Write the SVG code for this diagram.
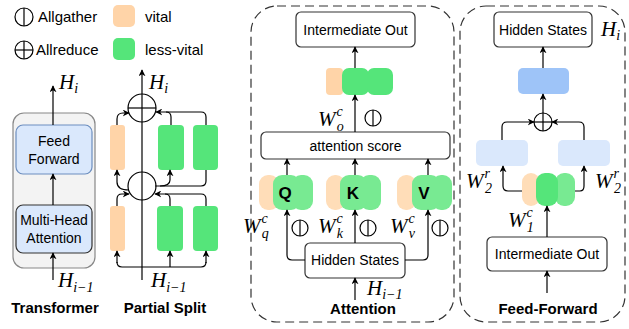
<svg xmlns="http://www.w3.org/2000/svg" width="629" height="329" viewBox="0 0 629 329">
<defs>
<marker id="ah" viewBox="0 0 10 10" refX="9" refY="5" markerWidth="7" markerHeight="7" markerUnits="userSpaceOnUse" orient="auto">
<path d="M0,0 L10,5 L0,10 L3,5 Z" fill="#000"/>
</marker>
<style>
.t{font-family:"Liberation Sans",Arial,sans-serif;font-size:14px;fill:#000}
.lg{font-family:"Liberation Sans",Arial,sans-serif;font-size:15px;fill:#000}
.b{font-family:"Liberation Sans",Arial,sans-serif;font-size:15px;font-weight:bold;fill:#000;text-anchor:middle}
.m{font-family:"Liberation Serif","Times New Roman",serif;font-style:italic;font-size:21px;fill:#000}
.ms{font-family:"Liberation Serif","Times New Roman",serif;font-style:italic;font-size:14px;fill:#000}
.qkv{font-family:"Liberation Sans",Arial,sans-serif;font-size:17px;font-weight:bold;fill:#000;text-anchor:middle}
.ln{fill:none;stroke:#000;stroke-width:1.2}
.ar{fill:none;stroke:#000;stroke-width:1.2;marker-end:url(#ah)}
.box{fill:#fff;stroke:#333;stroke-width:1.2}
.vit{fill:#FFD4A8}
.lv{fill:#55E57A}
.vit2{fill:#FFDDB8}
.lv2{fill:#78EA92}
.sym{fill:#fff;stroke:#000;stroke-width:1.2}
.panel{fill:none;stroke:#333;stroke-width:1.2;stroke-dasharray:9 5}
</style>
</defs>

<!-- Legend -->
<g id="legend">
<circle class="sym" cx="24" cy="17" r="9"/><line class="ln" x1="24" y1="8" x2="24" y2="26"/>
<text class="lg" x="38" y="22">Allgather</text>
<rect class="vit" x="113" y="5" width="22" height="22" rx="5"/>
<text class="lg" x="145" y="22">vital</text>
<circle class="sym" cx="24" cy="50" r="9"/><line class="ln" x1="24" y1="41" x2="24" y2="59"/><line class="ln" x1="15" y1="50" x2="33" y2="50"/>
<text class="lg" x="36" y="55">Allreduce</text>
<rect class="lv" x="113" y="38" width="22" height="22" rx="5"/>
<text class="lg" x="145" y="55">less-vital</text>
</g>

<!-- Transformer -->
<g id="transformer">
<rect x="13" y="113" width="82" height="155" rx="11" fill="#f3f3f3" stroke="#888" stroke-width="1.2"/>
<g id="feed-forward">
<rect x="16" y="125" width="76" height="49" rx="7" fill="#dae8fc" stroke="#6c8ebf" stroke-width="1.2"/>
<text class="t" x="54" y="146" text-anchor="middle">Feed</text>
<text class="t" x="54" y="164" text-anchor="middle">Forward</text>
</g>
<g id="mha">
<rect x="16" y="205" width="76" height="48" rx="7" fill="#dae8fc" stroke="#333" stroke-width="1.2"/>
<text class="t" x="54" y="225" text-anchor="middle">Multi-Head</text>
<text class="t" x="54" y="243" text-anchor="middle">Attention</text>
</g>
<text class="m" x="59" y="89">H<tspan class="ms" dy="4">i</tspan></text>
<text class="m" x="58" y="287">H<tspan class="ms" dy="5">i−1</tspan></text>
<text class="b" x="55" y="313">Transformer</text>
</g>

<!-- Partial Split -->
<g id="partial-split">
<rect class="vit" x="110" y="125" width="15" height="45" rx="3"/>
<rect class="lv" x="158" y="125" width="26" height="45" rx="4"/>
<rect class="lv" x="193" y="125" width="25" height="45" rx="4"/>
<rect class="vit" x="110" y="206" width="15" height="45" rx="3"/>
<rect class="lv" x="157" y="206" width="26" height="45" rx="4"/>
<rect class="lv" x="193" y="206" width="25" height="45" rx="4"/>
<g id="ps-top-reduce"><circle class="sym" cx="142" cy="108" r="14"/><line class="ln" x1="128" y1="108" x2="156" y2="108"/></g>
<g id="ps-mid-reduce"><circle class="sym" cx="142" cy="186" r="14"/></g>
<text class="m" x="149" y="89">H<tspan class="ms" dy="4">i</tspan></text>
<text class="m" x="151" y="287">H<tspan class="ms" dy="5">i−1</tspan></text>
<text class="b" x="165" y="313">Partial Split</text>
</g>

<!-- Attention panel -->
<g id="attention">
<rect class="panel" x="251" y="6" width="203" height="316" rx="26"/>
<g id="att-inter-out"><rect class="box" x="296" y="12" width="119" height="35" rx="5"/><text class="t" x="355.5" y="35" text-anchor="middle">Intermediate Out</text></g>
<g id="wo-tiles">
<rect class="vit" x="326" y="68" width="17" height="27" rx="4"/>
<rect class="lv" x="342" y="68" width="27" height="27" rx="7"/>
<rect class="lv" x="367" y="68" width="26" height="27" rx="7"/>
</g>
<text class="m" x="318" y="126">W<tspan class="ms" dx="1" dy="-10">c</tspan><tspan class="ms" dx="-6" dy="15">o</tspan></text>
<g><circle class="sym" cx="373" cy="118" r="8"/><line class="ln" x1="373" y1="110" x2="373" y2="126"/></g>
<g id="att-score"><rect class="box" x="261" y="132" width="189" height="27" rx="5"/><text class="t" x="355.5" y="151" text-anchor="middle">attention score</text></g>
<g id="q">
<rect class="vit2" x="259" y="175" width="20" height="35" rx="9"/>
<rect class="lv2" x="292" y="175" width="21" height="35" rx="9"/>
<rect class="lv2" x="273" y="175" width="27" height="35" rx="9"/>
<text class="qkv" x="285" y="199">Q</text>
</g>
<g id="k">
<rect class="vit2" x="326" y="175" width="19" height="35" rx="9"/>
<rect class="lv2" x="360" y="175" width="21" height="35" rx="9"/>
<rect class="lv2" x="340" y="175" width="27" height="35" rx="9"/>
<text class="qkv" x="353" y="199">K</text>
</g>
<g id="v">
<rect class="vit2" x="397" y="175" width="19" height="35" rx="9"/>
<rect class="lv2" x="432" y="175" width="20" height="35" rx="9"/>
<rect class="lv2" x="412" y="175" width="28" height="35" rx="9"/>
<text class="qkv" x="424" y="199">V</text>
</g>
<text class="m" x="243" y="233">W<tspan class="ms" dx="1" dy="-10">c</tspan><tspan class="ms" dx="-6" dy="15">q</tspan></text>
<g><circle class="sym" cx="300" cy="228" r="8"/><line class="ln" x1="300" y1="220" x2="300" y2="236"/></g>
<text class="m" x="318" y="233">W<tspan class="ms" dx="1" dy="-10">c</tspan><tspan class="ms" dx="-6" dy="15">k</tspan></text>
<g><circle class="sym" cx="368" cy="228" r="8"/><line class="ln" x1="368" y1="220" x2="368" y2="236"/></g>
<text class="m" x="390" y="233">W<tspan class="ms" dx="1" dy="-10">c</tspan><tspan class="ms" dx="-6" dy="15">v</tspan></text>
<g><circle class="sym" cx="440" cy="228" r="8"/><line class="ln" x1="440" y1="220" x2="440" y2="236"/></g>
<g id="att-hidden"><rect class="box" x="305" y="243" width="100" height="35" rx="5"/><text class="t" x="355" y="265" text-anchor="middle">Hidden States</text></g>
<text class="m" x="367" y="295">H<tspan class="ms" dy="4">i−1</tspan></text>
<text class="b" x="363" y="314">Attention</text>
</g>

<!-- Feed-Forward panel -->
<g id="feedforward">
<rect class="panel" x="460" y="6" width="165" height="316" rx="26"/>
<g id="ff-hidden"><rect class="box" x="494" y="12" width="98" height="35" rx="5"/><text class="t" x="543" y="35" text-anchor="middle">Hidden States</text></g>
<text class="m" x="601" y="36">H<tspan class="ms" dy="4">i</tspan></text>
<rect id="ff-out" x="518" y="68" width="51" height="26" rx="5" fill="#9EC4F8"/>
<g id="ff-reduce"><circle class="sym" cx="543" cy="122" r="9"/><line class="ln" x1="534" y1="122" x2="552" y2="122"/><line class="ln" x1="543" y1="113" x2="543" y2="131"/></g>
<rect id="ff-left" x="476" y="140" width="52" height="26" rx="5" fill="#dae8fc"/>
<rect id="ff-right" x="558" y="140" width="52" height="26" rx="5" fill="#dae8fc"/>
<g id="ff-tiles">
<rect class="vit2" x="522" y="173" width="18" height="33" rx="9"/>
<rect class="lv2" x="555" y="173" width="20" height="33" rx="9"/>
<rect class="lv" x="536" y="173" width="22" height="33" rx="9"/>
</g>
<text class="m" x="466" y="188">W<tspan class="ms" dx="1" dy="-10">r</tspan><tspan class="ms" dx="-5" dy="15">2</tspan></text>
<text class="m" x="595" y="188">W<tspan class="ms" dx="1" dy="-10">r</tspan><tspan class="ms" dx="-5" dy="15">2</tspan></text>
<text class="m" x="508" y="227">W<tspan class="ms" dx="1" dy="-10">c</tspan><tspan class="ms" dx="-6" dy="15">1</tspan></text>
<g id="ff-inter-out"><rect class="box" x="487" y="237" width="120" height="34" rx="5"/><text class="t" x="547" y="259" text-anchor="middle">Intermediate Out</text></g>
<text class="b" x="548" y="314">Feed-Forward</text>
</g>

<!-- Connectors -->
<g id="connectors">
<path class="ar" d="M53,280 V253"/>
<path class="ar" d="M53,205 V174"/>
<path class="ar" d="M53,125 V86"/>
<path class="ar" d="M142,280 V70"/>
<path class="ar" d="M117,125 V119 Q117,113 123,113 H129"/>
<path class="ar" d="M206,125 V117 Q206,112 201,112 H156"/>
<path class="ln" d="M171,125 V117 Q171,112 166,112"/>
<path class="ar" d="M129,190 Q117,190 117,182 V170"/>
<path class="ln" d="M155,186 H201 Q206,186 206,181 V170"/>
<path class="ar" d="M160,186 Q170,186 170,180 V170"/>
<path class="ar" d="M117,206 V199 Q117,194 122,194 H129"/>
<path class="ar" d="M206,206 V199 Q206,194 201,194 H155"/>
<path class="ln" d="M170,206 V199 Q170,194 165,194"/>
<path class="ln" d="M117,262 Q117,267 122,267 H201 Q206,267 206,262"/>
<path class="ar" d="M117,263 V251"/>
<path class="ar" d="M170,267 V251"/>
<path class="ar" d="M206,263 V251"/>
<path class="ar" d="M355,68 V47"/>
<path class="ar" d="M355,132 V95"/>
<path class="ar" d="M287,175 V159"/>
<path class="ar" d="M355,175 V159"/>
<path class="ar" d="M428,175 V159"/>
<path class="ar" d="M305,260 H292 Q287,260 287,255 V210"/>
<path class="ar" d="M355,243 V210"/>
<path class="ar" d="M405,260 H423 Q428,260 428,255 V210"/>
<path class="ar" d="M355,300 V278"/>
<path class="ar" d="M543,68 V47"/>
<path class="ar" d="M543,113 V94"/>
<path class="ar" d="M502,140 V127 Q502,122 507,122 H534"/>
<path class="ar" d="M584,140 V127 Q584,122 579,122 H552"/>
<path class="ar" d="M522,191 H508 Q503,191 503,186 V166"/>
<path class="ar" d="M575,191 H580 Q584,191 584,186 V166"/>
<path class="ar" d="M547,237 V206"/>
<path class="ar" d="M547,293 V271"/>
</g>
</svg>
